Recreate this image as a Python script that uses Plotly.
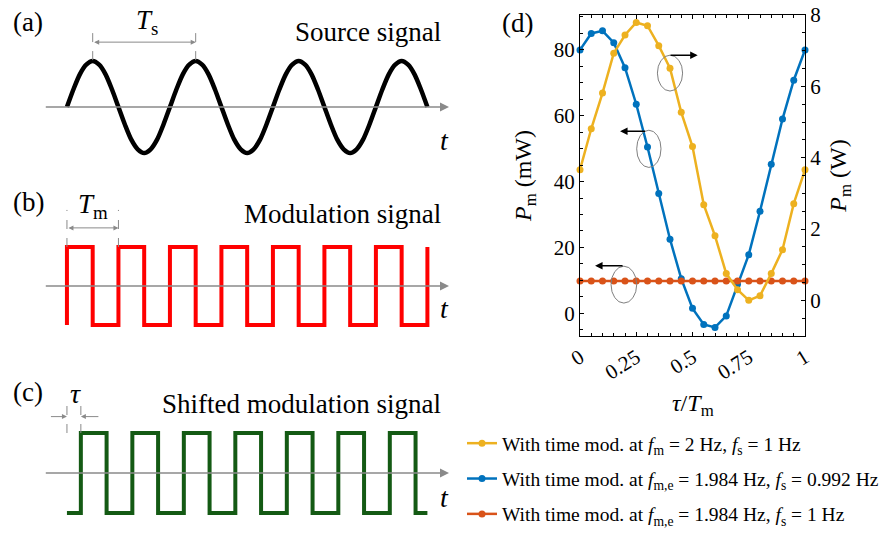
import plotly.graph_objects as go

FONT = "Liberation Serif"

# ---------------- data: panel (d) ----------------
tau = [0.0, 0.05, 0.1, 0.15, 0.2, 0.25, 0.3, 0.35, 0.4, 0.45, 0.5,
       0.55, 0.6, 0.65, 0.7, 0.75, 0.8, 0.85, 0.9, 0.95, 1.0]
yellow_W = [3.66, 4.81, 5.81, 6.93, 7.44, 7.79, 7.70, 7.14, 6.51, 5.27, 4.31,
            2.68, 1.81, 0.75, 0.30, 0.0, 0.13, 0.75, 1.42, 2.71, 3.66]
blue_mW = [80.0, 85.0, 85.8, 82.2, 74.6, 63.5, 50.5, 36.4, 22.5, 10.5, 1.5,
           -3.4, -4.3, -0.8, 8.8, 17.8, 31.0, 45.3, 59.0, 70.8, 80.0]
red_mW = [9.8] * 21

legend_names = [
    "With time mod. at <i>f</i><sub>m</sub> = 2 Hz, <i>f</i><sub>s</sub> = 1 Hz",
    "With time mod. at <i>f</i><sub>m,e</sub> = 1.984 Hz, <i>f</i><sub>s</sub> = 0.992 Hz",
    "With time mod. at <i>f</i><sub>m,e</sub> = 1.984 Hz, <i>f</i><sub>s</sub> = 1 Hz",
]
colors = ["#EDB120", "#0072BD", "#D95319"]

# ---------------- data: schematic panels (a)-(c), time in units of T_m ----------------
sine_t = [0.0, 0.125, 0.25, 0.375, 0.5, 0.625, 0.75, 0.875,
          1.0, 1.125, 1.25, 1.375, 1.5, 1.625, 1.75, 1.875,
          2.0, 2.125, 2.25, 2.375, 2.5, 2.625, 2.75, 2.875,
          3.0, 3.125, 3.25, 3.375, 3.5, 3.625, 3.75, 3.875,
          4.0, 4.125, 4.25, 4.375, 4.5, 4.625, 4.75, 4.875,
          5.0, 5.125, 5.25, 5.375, 5.5, 5.625, 5.75, 5.875,
          6.0, 6.125, 6.25, 6.375, 6.5, 6.625, 6.75, 6.875, 7.0]
sine_v = [0, 0.38, 0.71, 0.92, 1, 0.92, 0.71, 0.38,
          0, -0.38, -0.71, -0.92, -1, -0.92, -0.71, -0.38,
          0, 0.38, 0.71, 0.92, 1, 0.92, 0.71, 0.38,
          0, -0.38, -0.71, -0.92, -1, -0.92, -0.71, -0.38,
          0, 0.38, 0.71, 0.92, 1, 0.92, 0.71, 0.38,
          0, -0.38, -0.71, -0.92, -1, -0.92, -0.71, -0.38,
          0, 0.38, 0.71, 0.92, 1, 0.92, 0.71, 0.38, 0]

mod_t = [0.0, 0.0, 0.5, 1.0, 1.5, 2.0, 2.5, 3.0, 3.5, 4.0, 4.5, 5.0, 5.5, 6.0, 6.5, 7.0]
mod_v = [-1, 1, -1, 1, -1, 1, -1, 1, -1, 1, -1, 1, -1, 1, -1, 1]

shift_t = [0.0, 0.27, 0.77, 1.27, 1.77, 2.27, 2.77, 3.27, 3.77, 4.27, 4.77,
           5.27, 5.77, 6.27, 6.77, 7.0]
shift_v = [-1, 1, -1, 1, -1, 1, -1, 1, -1, 1, -1, 1, -1, 1, -1, -1]

fig = go.Figure()

# panel (d) traces
for name, ys, col, ax in zip(legend_names, [yellow_W, blue_mW, red_mW], colors, ["y2", "y", "y"]):
    fig.add_trace(go.Scatter(
        x=tau, y=ys, xaxis="x", yaxis=ax, mode="lines+markers", name=name,
        line=dict(color=col, width=2.5), marker=dict(color=col, size=7),
        cliponaxis=False, legendgroup=name,
    ))

# schematic traces
fig.add_trace(go.Scatter(x=sine_t, y=sine_v, xaxis="x3", yaxis="y3", mode="lines",
                         line=dict(color="black", width=4.5, shape="spline", smoothing=0.8),
                         showlegend=False, hoverinfo="skip"))
fig.add_trace(go.Scatter(x=mod_t, y=mod_v, xaxis="x3", yaxis="y4", mode="lines",
                         line=dict(color="#FF0000", width=4, shape="hv"),
                         showlegend=False, hoverinfo="skip"))
fig.add_trace(go.Scatter(x=shift_t, y=shift_v, xaxis="x3", yaxis="y5", mode="lines",
                         line=dict(color="#145A14", width=4, shape="hv"),
                         showlegend=False, hoverinfo="skip"))

W, H = 889, 537
GRAY = "#8a8a8a"

def px(xp, yp):
    return xp / W, 1 - yp / H

annotations = []
shapes = []

# panel labels and titles (paper coordinates)
for txt, xp, yp in [("(a)", 28, 22), ("(b)", 28, 202), ("(c)", 28, 392), ("(d)", 517, 23)]:
    x, y = px(xp, yp)
    annotations.append(dict(text=txt, x=x, y=y, xref="paper", yref="paper", showarrow=False,
                            xanchor="center", yanchor="middle", font=dict(size=27)))
for txt, yp in [("Source signal", 32), ("Modulation signal", 214), ("Shifted modulation signal", 404)]:
    x, y = px(443, yp)
    annotations.append(dict(text=txt, x=x, y=y, xref="paper", yref="paper", showarrow=False,
                            xanchor="right", yanchor="middle", font=dict(size=27)))

# time axes (gray arrows) and t labels
for yax, ty in [("y3", -0.72), ("y4", -0.58), ("y5", -0.62)]:
    annotations.append(dict(x=7.42, y=0, ax=-0.44, ay=0, xref="x3", yref=yax, axref="x3", ayref=yax,
                            text="", showarrow=True, arrowhead=2, arrowsize=1.2, arrowwidth=1.5,
                            arrowcolor=GRAY))
    annotations.append(dict(x=7.33, y=ty, xref="x3", yref=yax, text="<i>t</i>", showarrow=False,
                            xanchor="center", yanchor="middle", font=dict(size=28)))

# T_s marker
for xv in [0.5, 2.5]:
    shapes.append(dict(type="line", xref="x3", yref="y3", x0=xv, x1=xv, y0=1.02, y1=1.78,
                       line=dict(color=GRAY, width=1, dash="dash")))
annotations.append(dict(x=2.5, y=1.41, ax=0.5, ay=1.41, xref="x3", yref="y3", axref="x3", ayref="y3",
                        text="", showarrow=True, arrowhead=2, arrowside="end+start", arrowsize=1,
                        arrowwidth=1, arrowcolor=GRAY))
annotations.append(dict(x=1.55, y=1.85, xref="x3", yref="y3", text="<i>T</i><sub>s</sub>",
                        showarrow=False, xanchor="center", yanchor="middle", font=dict(size=27)))

# T_m marker
for xv in [0.0, 1.0]:
    shapes.append(dict(type="line", xref="x3", yref="y4", x0=xv, x1=xv, y0=1.0, y1=1.95,
                       line=dict(color=GRAY, width=1, dash="dash")))
annotations.append(dict(x=1.0, y=1.49, ax=0.0, ay=1.49, xref="x3", yref="y4", axref="x3", ayref="y4",
                        text="", showarrow=True, arrowhead=2, arrowside="end+start", arrowsize=1,
                        arrowwidth=1, arrowcolor=GRAY))
annotations.append(dict(x=0.5, y=2.05, xref="x3", yref="y4", text="<i>T</i><sub>m</sub>",
                        showarrow=False, xanchor="center", yanchor="middle", font=dict(size=27)))

# tau marker
for xv in [0.0, 0.27]:
    shapes.append(dict(type="line", xref="x3", yref="y5", x0=xv, x1=xv, y0=1.0, y1=1.83,
                       line=dict(color=GRAY, width=1, dash="dash")))
annotations.append(dict(x=0.0, y=1.41, ax=-0.34, ay=1.41, xref="x3", yref="y5", axref="x3", ayref="y5",
                        text="", showarrow=True, arrowhead=2, arrowsize=1, arrowwidth=1, arrowcolor=GRAY))
annotations.append(dict(x=0.27, y=1.41, ax=0.64, ay=1.41, xref="x3", yref="y5", axref="x3", ayref="y5",
                        text="", showarrow=True, arrowhead=2, arrowsize=1, arrowwidth=1, arrowcolor=GRAY))
annotations.append(dict(x=0.16, y=2.0, xref="x3", yref="y5", text="<i>τ</i>",
                        showarrow=False, xanchor="center", yanchor="middle", font=dict(size=28)))

# panel (d): ellipses and arrows
for x0, x1, y0, y1 in [(0.344, 0.456, 67.5, 78.4), (0.252, 0.360, 44.3, 55.6), (0.138, 0.252, 3.1, 14.3)]:
    shapes.append(dict(type="circle", xref="x", yref="y", x0=x0, x1=x1, y0=y0, y1=y1,
                       line=dict(color="#7f7f7f", width=1)))
for xs, xe, yv in [(0.396, 0.523, 78.4), (0.296, 0.178, 55.3), (0.196, 0.067, 14.4)]:
    annotations.append(dict(x=xe, y=yv, ax=xs, ay=yv, xref="x", yref="y", axref="x", ayref="y",
                            text="", showarrow=True, arrowhead=2, arrowsize=1, arrowwidth=1.5,
                            arrowcolor="black"))

# x-axis title for (d)
x, y = px(693, 405)
annotations.append(dict(text="<i>τ</i>/<i>T</i><sub>m</sub>", x=x, y=y, xref="paper", yref="paper",
                        showarrow=False, xanchor="center", yanchor="middle", font=dict(size=24)))

axis_common = dict(showline=True, linecolor="black", linewidth=1.3, ticks="inside", ticklen=4,
                   tickcolor="black", showgrid=False, zeroline=False, tickfont=dict(size=21),
                   automargin=False)

fig.update_layout(
    width=W, height=H, margin=dict(l=0, r=0, t=0, b=0, pad=0, autoexpand=False),
    paper_bgcolor="white", plot_bgcolor="white",
    font=dict(family=FONT, color="black"),
    xaxis=dict(domain=[580 / W, 805 / W], range=[0, 1], anchor="y", mirror="ticks",
               tick0=0, dtick=0.25, tickangle=-32,
               minor=dict(tickmode="linear", tick0=0, dtick=0.05, ticks="inside", ticklen=3,
                          tickcolor="black"),
               **axis_common),
    yaxis=dict(domain=[1 - 336 / H, 1 - 15 / H], range=[-6.9, 90.6], anchor="x",
               tick0=0, dtick=20,
               title=dict(text="<i>P</i><sub>m</sub> (mW)", font=dict(size=24), standoff=15),
               minor=dict(tickmode="linear", tick0=0, dtick=5, ticks="inside", ticklen=3,
                          tickcolor="black"),
               **axis_common),
    yaxis2=dict(overlaying="y", side="right", anchor="x", range=[-1, 8], tick0=0, dtick=2,
                title=dict(text="<i>P</i><sub>m</sub> (W)", font=dict(size=24), standoff=8),
                minor=dict(tickmode="linear", tick0=0, dtick=0.5, ticks="inside", ticklen=3,
                           tickcolor="black"),
                **axis_common),
    xaxis3=dict(domain=[0, 0.53], range=[-1.3, 7.85], visible=False, anchor="y3"),
    yaxis3=dict(domain=[1 - 199 / H, 1 - 5.8 / H], range=[-2.0, 2.2], visible=False, anchor="x3"),
    yaxis4=dict(domain=[1 - 364 / H, 1 - 200.2 / H], range=[-2.0, 2.2], visible=False, anchor="x3"),
    yaxis5=dict(domain=[1 - 533 / H, 1 - 385 / H], range=[-1.5, 2.2], visible=False, anchor="x3"),
    showlegend=True,
    legend=dict(x=462 / W, y=1 - 424 / H, xanchor="left", yanchor="top", itemwidth=30,
                font=dict(size=19.5), bgcolor="rgba(0,0,0,0)", tracegroupgap=7,
                traceorder="grouped"),
    annotations=annotations, shapes=shapes,
)

fig.write_html("out.html")
